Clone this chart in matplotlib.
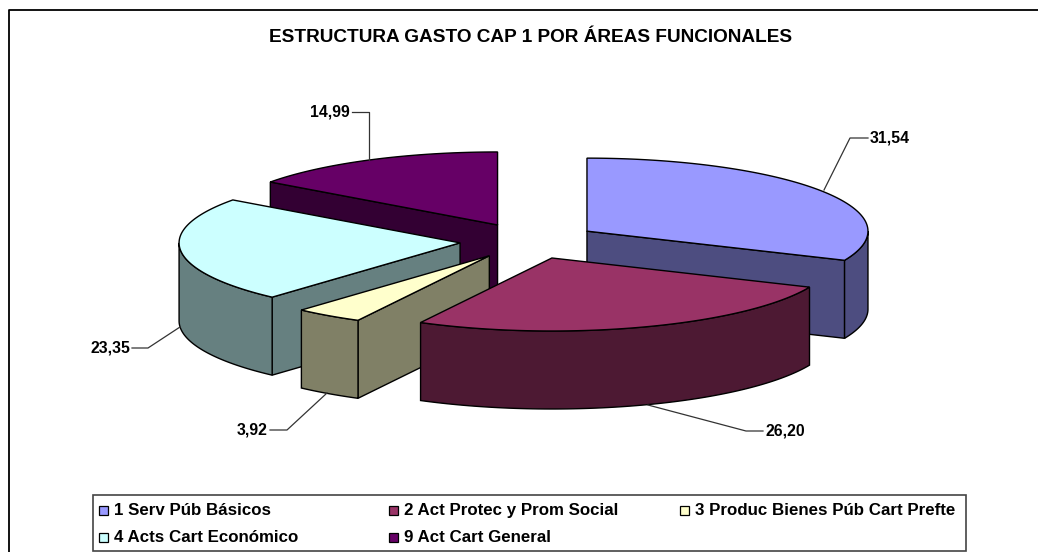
import numpy as np
import matplotlib
matplotlib.use("Agg")
from matplotlib import pyplot as plt
from matplotlib.patches import Polygon, Rectangle

labels = ["1 Serv Púb Básicos", "2 Act Protec y Prom Social", "3 Produc Bienes Púb Cart Prefte",
          "4 Acts Cart Económico", "9 Act Cart General"]
values = [31.54, 26.20, 3.92, 23.35, 14.99]
top_colors = ["#9999FF", "#993366", "#FFFFCC", "#CCFFFF", "#660066"]
side_colors = ["#4D4D80", "#4D1933", "#808066", "#668080", "#330033"]

# pie geometry, in pixels of the picture
CX, CY = 529, 241
RX, RY = 281, 73
DEPTH = 78
EXPLODE = 69.3

# leader line corners for each value label (slice anchor, elbow, end)
leaders = [[(824, 190), (850, 138), (868, 138)],
           [(648, 405), (746, 431), (763, 431)],
           [(327, 393), (287, 430), (270, 430)],
           [(180, 327), (148, 348), (132, 348)],
           [(369, 160), (369, 112), (352, 112)]]

# legend marker left edge and row centre for each entry
legend_x = [99, 389, 680, 99, 389]
legend_y = [510, 510, 510, 537.5, 537.5]

plt.rcParams["font.family"] = ["Liberation Sans", "DejaVu Sans"]
plt.rcParams["font.weight"] = "bold"

fig = plt.figure(figsize=(10.38, 5.52), dpi=100)
ax = fig.add_axes([0, 0, 1, 1])
ax.set_xlim(0, 1038)
ax.set_ylim(552, 0)
ax.axis("off")

# chart frame, only left and top fall inside the picture
ax.plot([9, 9, 1039], [553, 10, 10], color="black", lw=1.3, zorder=1)

ax.text(530.5, 38, "ESTRUCTURA GASTO CAP 1 POR ÁREAS FUNCIONALES", ha="center", va="center",
        fontsize=13.7, color="black", zorder=50)


def point(ox, oy, a, drop=0):
  return ox + RX * np.sin(a), oy - RY * np.cos(a) + drop


def draw_slice(a0, a1, top, side, z):
  mid = (a0 + a1) / 2
  ox = CX + EXPLODE * np.sin(mid)
  oy = CY - EXPLODE * RY / RX * np.cos(mid)

  # radial walls, only those turned to the viewer
  for a, visible in [(a0, np.sin(a0) < -1e-6), (a1, np.sin(a1) > 1e-6)]:
    if visible:
      p = point(ox, oy, a)
      wall = [(ox, oy), p, (p[0], p[1] + DEPTH), (ox, oy + DEPTH)]
      ax.add_patch(Polygon(wall, fc=side, ec="black", lw=1, zorder=z))

  # outer rim, front half of the ellipse only
  r0, r1 = max(a0, np.pi / 2), min(a1, 3 * np.pi / 2)
  if r1 > r0:
    arc = np.linspace(r0, r1, 80)
    upper = [point(ox, oy, a) for a in arc]
    lower = [point(ox, oy, a, DEPTH) for a in arc[::-1]]
    ax.add_patch(Polygon(upper + lower, fc=side, ec="black", lw=1, zorder=z + 1))

  arc = np.linspace(a0, a1, 120)
  ax.add_patch(Polygon([(ox, oy)] + [point(ox, oy, a) for a in arc], fc=top, ec="black", lw=1, zorder=z + 2))


edges = np.radians(np.cumsum([0] + values) / sum(values) * 360)
draw_order = [4, 0, 3, 2, 1]
for n, i in enumerate(draw_order):
  draw_slice(edges[i], edges[i + 1], top_colors[i], side_colors[i], 10 + n * 3)

for v, line in zip(values, leaders):
  xs, ys = zip(*line)
  ax.plot(xs, ys, color="#333333", lw=0.9, zorder=40)
  right_side = xs[-1] > xs[0]
  ax.text(xs[-1] + (2 if right_side else -2), ys[-1], f"{v:.2f}".replace(".", ","),
          ha="left" if right_side else "right", va="center", fontsize=11.4, color="black", zorder=50)

# legend box
ax.add_patch(Rectangle((92.5, 495), 873, 56, fc="white", ec="#444444", lw=1.2, zorder=30))
for name, color, x, y in zip(labels, top_colors, legend_x, legend_y):
  ax.add_patch(Rectangle((x, y - 4.5), 9, 9, fc=color, ec="black", lw=0.9, zorder=35))
  ax.text(x + 15, y + 0.5, name, ha="left", va="center", fontsize=12.2, color="black", zorder=50)

plt.savefig("out.png", dpi=100)
